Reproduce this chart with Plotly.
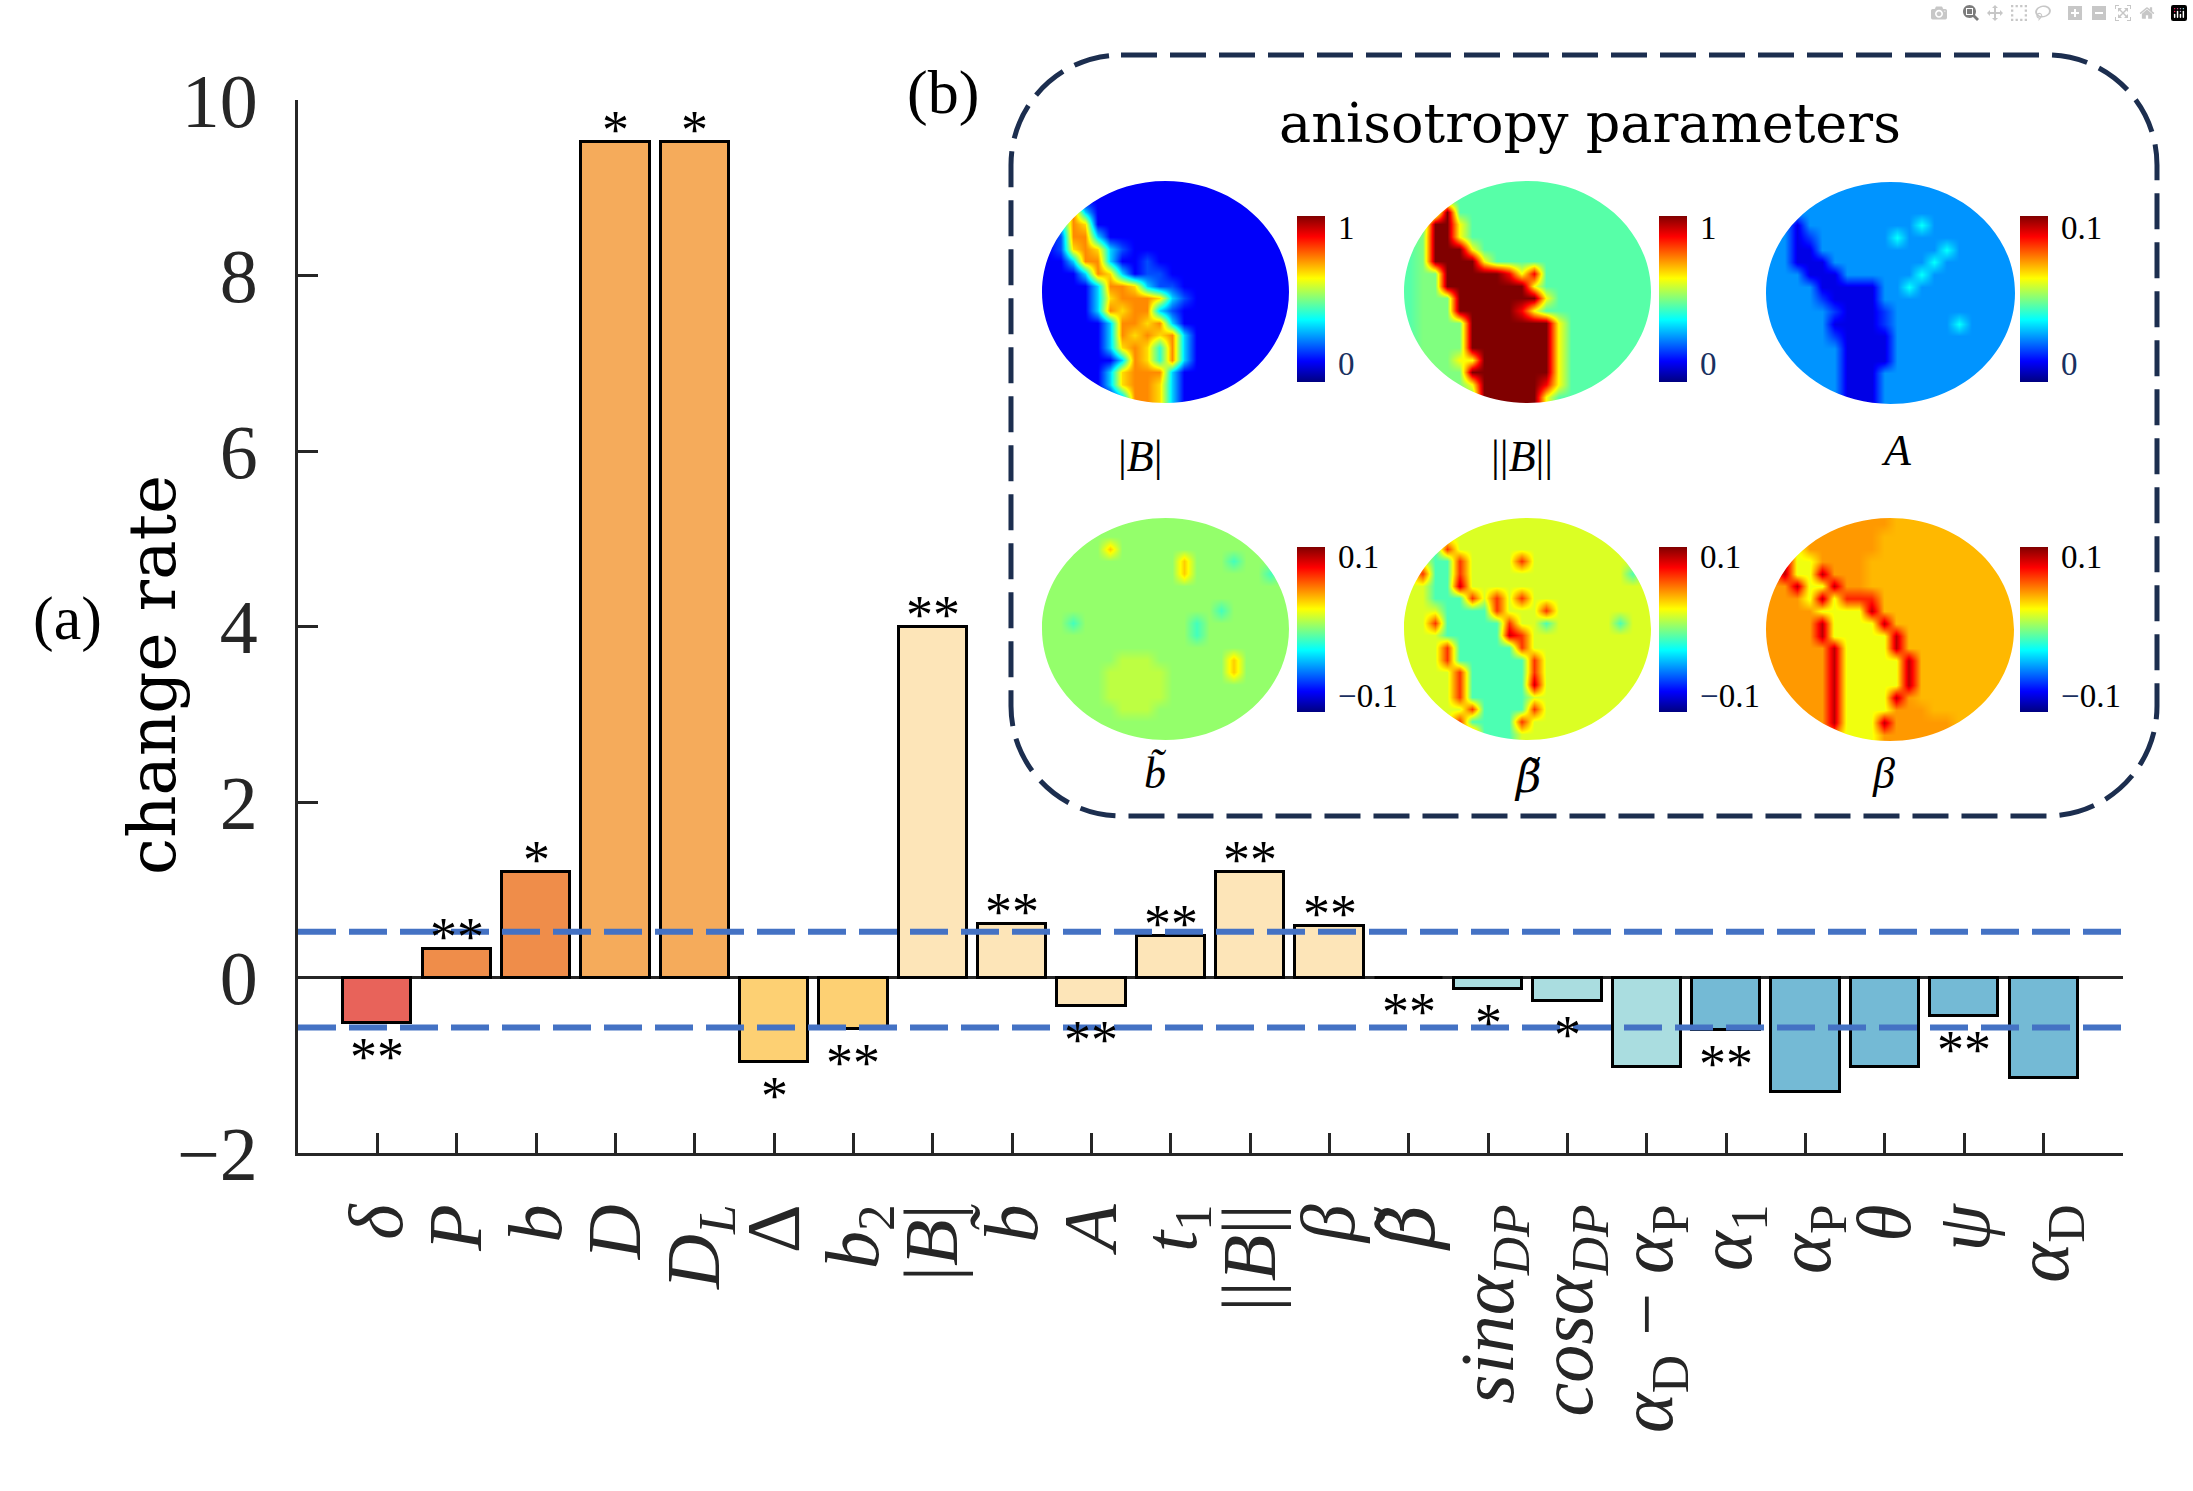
import plotly.graph_objects as go

# ---------------- data ----------------
categories = ["<i>δ</i>", "<i>P</i>", "<i>b</i>", "<i>D</i>", "<i>D<sub>L</sub></i>", "Δ",
              "<i>b</i><sub>2</sub>", "|<i>B</i>|", "<i>b̃</i>", "<i>A</i>", "<i>t</i><sub>1</sub>",
              "||<i>B</i>||", "<i>β</i>", '<span style="font-family:DejaVu Serif"><i>β̃</i></span>',
              "<i>sinα<sub>DP</sub></i>", "<i>cosα<sub>DP</sub></i>",
              "<i>α</i><sub>D</sub> − <i>α</i><sub>P</sub>", "<i>α</i><sub>1</sub>", "<i>α</i><sub>P</sub>",
              "<i>θ</i>", "<i>ψ</i>", "<i>α</i><sub>D</sub>"]
values = [-0.52, 0.33, 1.20, 9.52, 9.52, -0.96, -0.59, 4.00, 0.61, -0.32, 0.47,
          1.20, 0.59, -0.01, -0.13, -0.27, -1.02, -0.60, -1.30, -1.02, -0.44, -1.15]
stars = ["**", "**", "*", "*", "*", "*", "**", "**", "**", "**", "**",
         "**", "**", "**", "*", "*", "", "**", "", "", "**", ""]
bar_colors = ["#e8635a", "#ef8d4a", "#ef8d4a", "#f5ab5b", "#f5ab5b", "#fdd073", "#fdd073",
              "#fde5b8", "#fde5b8", "#fde5b8", "#fde5b8", "#fde5b8", "#fde5b8", "#fde5b8",
              "#aadde0", "#aadde0", "#aadde0", "#74bad5", "#74bad5", "#74bad5", "#74bad5", "#74bad5"]
thresholds = [0.52, -0.57]
y_ticks = [-2, 0, 2, 4, 6, 8, 10]
y_ticktext = ["−2", "0", "2", "4", "6", "8", "10"]

# inset images (coarse reading of each map, one character per cell)
IMG_BABS = [
    "11111111111111111111",
    "11111111111111111111",
    "13731111111111111111",
    "13761111111111111111",
    "12773111111111111111",
    "12676321111111111111",
    "11377311211111111111",
    "11137631221111111111",
    "11113776322111111111",
    "11113677763211111111",
    "11113767732111111111",
    "11111377673111111111",
    "11111376767311111111",
    "11111367647311111111",
    "11111137647311111111",
    "11111367773111111111",
    "11111367763111111111",
    "11111137763111111111",
]
PAL_BABS = {"1": 0.12, "2": 0.2, "3": 0.33, "4": 0.42, "6": 0.66, "7": 0.74}

IMG_BNORM = [
    "44444444444444444444",
    "44444444444444444444",
    "44494444444444444444",
    "44996444444444444444",
    "45996444444444444444",
    "45999644444444444444",
    "45999964444444444444",
    "45599999868444444444",
    "45599999996444444444",
    "45559999999644444444",
    "45559999986444444444",
    "45555999999964444444",
    "45555999999964444444",
    "45555999999964444444",
    "55556699999964444444",
    "55555999999964444444",
    "55555699999864444444",
    "55555599999644444444",
]
PAL_BNORM = {"4": 0.46, "5": 0.5, "6": 0.62, "8": 0.88, "9": 1.0}

IMG_A = [
    "bbbbbbbbbbbbbbbbbbbb",
    "bbbbbbbbbbbbbbbbbbbb",
    "bbbbbbbbbbbbbbbbbbbb",
    "bbdbbbbbbbbbgbbbbbbb",
    "bbdmbbbbbbgbbbbbbbbb",
    "bbddbbbbbbbbbbgbbbbb",
    "bbdddbbbbbbbbgbbbbbb",
    "bbbdddbbbbbbgbbbbbbb",
    "bbbbdddddbbgbbbbbbbb",
    "bbbbmddddbbbbbbbbbbb",
    "bbbbbmdddmbbbbbbbbbb",
    "bbbbbddddmbbbbbgbbbb",
    "bbbbbmddddbbbbbbbbbb",
    "bbbbbbddddbbbbbbbbbb",
    "bbbbbbddddbbbbbbbbbb",
    "bbbbbbdddbbbbbbbbbbb",
    "bbbbbbdddbbbbbbbbbbb",
    "bbbbbbdddbbbbbbbbbbb",
]
PAL_A = {"b": 0.027, "d": 0.01, "m": 0.018, "g": 0.038}

IMG_BT = [
    "gggggggggggggggggggg",
    "gggggggggggggggggggg",
    "gggggogggggggggggggg",
    "gggggggggggogggcgggg",
    "gggggggggggoggggggcg",
    "gggggggggggggggggggg",
    "gggggggggggggggggggg",
    "ggggggggggggggcggggg",
    "ggcgggggggggcggggggg",
    "ggggggggggggcggggggg",
    "gggggggggggggggggggg",
    "ggggggyyyggggggogggg",
    "gggggyyyyygggggogggg",
    "gggggyyyyygggggggggg",
    "gggggyyyyygggggggggg",
    "ggggggyyyggggggggggg",
    "gggggggggggggggggggg",
    "gggggggggggggggggggg",
]
PAL_BT = {"g": 0.004, "y": 0.012, "c": -0.012, "o": 0.035}

IMG_BETAT = [
    "yyyyyyyyyyyyyyyyyyyy",
    "yyyyyyyyyyyyyyyyyyyy",
    "yycryyyyyyyyyyyyyyyy",
    "yyccryyyyryyyyyyyyyy",
    "yrccryyyyyyyyyyyyycy",
    "yyccRyyyyyyyyyyyyyyy",
    "yycccryryryyyyyyyyyy",
    "yyyccccryyyryyyyyyyy",
    "yyrcccccryycyyyyycyy",
    "yyycccccRryyyyyyyyyy",
    "yyyrcccccryyyyyyyyyy",
    "yyyrccccccryyyyyyyyy",
    "yyyyrcccccryyyyyyyyy",
    "yyyyrcccccRyyyyyyyyy",
    "yyyyrcccccyyyyyyyyyy",
    "yyyyyrccccryyyyyyyyy",
    "yyyyrccccryyyyyyyyyy",
    "yyyyyrcccyyyyyyyyyyy",
]
PAL_BETAT = {"y": 0.018, "c": -0.01, "r": 0.065, "R": 0.085}

IMG_BETA = [
    "ooooooooooYYYYYYYYYY",
    "oooooooooYYYYYYYYYYY",
    "oRyooooooYYYYYYYYYYY",
    "oRyyooooYYYYYYYYYYYY",
    "oRyyRoooYYYYYYYYYYYY",
    "ooRyyRooYYYYYYYYYYYY",
    "oooyRyrrrYYYYYYYYYYY",
    "ooooyyyyRYYYYYYYYYYY",
    "ooooRyyyyRYYYYYYYYYY",
    "ooooRyyyyyRYYYYYYYYY",
    "oooooRyyyyRYYYYYYYYY",
    "oooooRyyyyyRYYYYYYYY",
    "oooooRyyyyyRYYYYYYYY",
    "oooooRyyyyyRYYYYYYYY",
    "oooooRyyyyRoYYYYYYYY",
    "oooooRyyyyoooYYYYYYY",
    "oooooRyyyRoooooYYYYY",
    "ooooooyyyoooooooYYYY",
]
PAL_BETA = {"o": 0.045, "Y": 0.039, "y": 0.022, "R": 0.088, "r": 0.068}

# ---------------- geometry / style ----------------
W, H = 2193, 1491
L, R, T, B = 298, 70, 100, 338
PW, PH = W - L - R, H - T - B
AX = "#262626"
SERIF = "Liberation Serif"
JET = [[0.0, "rgb(0,0,128)"], [0.125, "rgb(0,0,255)"], [0.375, "rgb(0,255,255)"],
       [0.625, "rgb(255,255,0)"], [0.875, "rgb(255,0,0)"], [1.0, "rgb(128,0,0)"]]
NAVY = "#1a3060"


def fx(px):
    return (px - L) / PW


def fy(py):
    return (H - B - py) / PH


def pt(px, py):
    return f"{fx(px):.5f},{fy(py):.5f}"


fig = go.Figure()

xs = list(range(1, len(values) + 1))
fig.add_trace(go.Bar(x=xs, y=values, width=0.86,
                     marker=dict(color=bar_colors, line=dict(color="black", width=3)),
                     hoverinfo="skip", showlegend=False))

# star annotations
for xi, v, s in zip(xs, values, stars):
    if not s:
        continue
    if v >= 0:
        fig.add_annotation(x=xi, y=v, text=s, showarrow=False, xanchor="center",
                           yanchor="bottom", yshift=-20,
                           font=dict(family=SERIF, size=54, color="black"))
    else:
        fig.add_annotation(x=xi, y=v, text=s, showarrow=False, xanchor="center",
                           yanchor="top", yshift=-2,
                           font=dict(family=SERIF, size=54, color="black"))

# threshold dashed lines
for tv in thresholds:
    fig.add_shape(type="line", xref="paper", x0=0, x1=1, yref="y", y0=tv, y1=tv,
                  line=dict(color="#4472c4", width=6, dash="38px,13px"), layer="above")

# inset heatmaps
insets = [
    dict(img=IMG_BABS, pal=PAL_BABS, zr=(0, 1), box=(1042, 181, 1289, 403), cbx=1297,
         cby=(216, 382), tv=[0.11, 0.93], tt=[f'<span style="color:{NAVY}">0</span>', "1"],
         lab="|<i>B</i>|", lpos=(1140, 456)),
    dict(img=IMG_BNORM, pal=PAL_BNORM, zr=(0, 1), box=(1404, 181, 1651, 403), cbx=1659,
         cby=(216, 382), tv=[0.11, 0.93], tt=[f'<span style="color:{NAVY}">0</span>', "1"],
         lab="||<i>B</i>||", lpos=(1522, 456)),
    dict(img=IMG_A, pal=PAL_A, zr=(0, 0.1), box=(1766, 182, 2015, 404), cbx=2020,
         cby=(216, 382), tv=[0.011, 0.093], tt=[f'<span style="color:{NAVY}">0</span>', "0.1"],
         lab="<i>A</i>", lpos=(1896, 450)),
    dict(img=IMG_BT, pal=PAL_BT, zr=(-0.1, 0.1), box=(1042, 518, 1289, 740), cbx=1297,
         cby=(547, 712), tv=[-0.08, 0.088], tt=[f'<span style="color:{NAVY}">−</span>0.1', "0.1"],
         lab="<i>b̃</i>", lpos=(1155, 774)),
    dict(img=IMG_BETAT, pal=PAL_BETAT, zr=(-0.1, 0.1), box=(1404, 518, 1651, 740), cbx=1659,
         cby=(547, 712), tv=[-0.08, 0.088], tt=[f'<span style="color:{NAVY}">−</span>0.1', "0.1"],
         lab='<span style="font-family:DejaVu Serif"><i>β̃</i></span>', lpos=(1527, 776)),
    dict(img=IMG_BETA, pal=PAL_BETA, zr=(-0.1, 0.1), box=(1766, 518, 2014, 741), cbx=2020,
         cby=(547, 712), tv=[-0.08, 0.088], tt=[f'<span style="color:{NAVY}">−</span>0.1', "0.1"],
         lab="<i>β</i>", lpos=(1883, 773)),
]

K = 0.5523
layout_axes = {}
for i, ins in enumerate(insets):
    n = i + 2
    z = [[ins["pal"][c] for c in row] for row in ins["img"]]
    ncol = max(len(r) for r in ins["img"])
    nrow = len(ins["img"])
    x0, y0, x1, y1 = ins["box"]
    cb0, cb1 = ins["cby"]
    fig.add_trace(go.Heatmap(
        z=z, xaxis=f"x{n}", yaxis=f"y{n}", colorscale=JET, zmin=ins["zr"][0], zmax=ins["zr"][1],
        zsmooth="best", hoverinfo="skip",
        colorbar=dict(x=fx(ins["cbx"]), xanchor="left", y=fy((cb0 + cb1) / 2), yanchor="middle",
                      len=cb1 - cb0, lenmode="pixels", thickness=28, thicknessmode="pixels",
                      xpad=0, ypad=0, outlinewidth=0, tickvals=ins["tv"], ticktext=ins["tt"],
                      ticks="outside", ticklen=7, tickcolor="rgba(0,0,0,0)",
                      tickfont=dict(family=SERIF, size=33, color="black"))))
    layout_axes[f"xaxis{n}"] = dict(domain=[fx(x0), fx(x1)], anchor=f"y{n}", visible=False,
                                    range=[-0.5, ncol - 0.5], fixedrange=True)
    layout_axes[f"yaxis{n}"] = dict(domain=[fy(y1), fy(y0)], anchor=f"x{n}", visible=False,
                                    range=[nrow - 0.5, -0.5], fixedrange=True)
    # white mask outside the elliptical field of view
    cx, cy = (x0 + x1) / 2, (y0 + y1) / 2
    rx, ry = (x1 - x0) / 2, (y1 - y0) / 2
    e = 3
    path = (f"M{pt(x0 - e, y0 - e)} L{pt(x1 + e, y0 - e)} L{pt(x1 + e, y1 + e)} L{pt(x0 - e, y1 + e)} Z "
            f"M{pt(cx + rx, cy)} "
            f"C{pt(cx + rx, cy - K * ry)} {pt(cx + K * rx, cy - ry)} {pt(cx, cy - ry)} "
            f"C{pt(cx - K * rx, cy - ry)} {pt(cx - rx, cy - K * ry)} {pt(cx - rx, cy)} "
            f"C{pt(cx - rx, cy + K * ry)} {pt(cx - K * rx, cy + ry)} {pt(cx, cy + ry)} "
            f"C{pt(cx + K * rx, cy + ry)} {pt(cx + rx, cy + K * ry)} {pt(cx + rx, cy)} Z")
    fig.add_shape(type="path", xref="paper", yref="paper", path=path, fillcolor="white",
                  line=dict(width=0), layer="above")
    fig.add_annotation(xref="paper", yref="paper", x=fx(ins["lpos"][0]), y=fy(ins["lpos"][1]),
                       text=ins["lab"], showarrow=False, xanchor="center", yanchor="middle",
                       font=dict(family=SERIF, size=44, color="black"))

# rounded dashed inset frame
bx0, by0, bx1, by1, rr = 1011, 55, 2157, 816, 110
kr = K * rr
frame = (f"M{pt(bx0 + rr, by0)} L{pt(bx1 - rr, by0)} "
         f"C{pt(bx1 - rr + kr, by0)} {pt(bx1, by0 + rr - kr)} {pt(bx1, by0 + rr)} "
         f"L{pt(bx1, by1 - rr)} "
         f"C{pt(bx1, by1 - rr + kr)} {pt(bx1 - rr + kr, by1)} {pt(bx1 - rr, by1)} "
         f"L{pt(bx0 + rr, by1)} "
         f"C{pt(bx0 + rr - kr, by1)} {pt(bx0, by1 - rr + kr)} {pt(bx0, by1 - rr)} "
         f"L{pt(bx0, by0 + rr)} "
         f"C{pt(bx0, by0 + rr - kr)} {pt(bx0 + rr - kr, by0)} {pt(bx0 + rr, by0)} Z")
fig.add_shape(type="path", xref="paper", yref="paper", path=frame,
              line=dict(color="#1c2e4f", width=5, dash="36px,13px"), layer="above")

# text annotations
fig.add_annotation(xref="paper", yref="paper", x=fx(1590), y=fy(124), text="anisotropy parameters",
                   showarrow=False, xanchor="center", yanchor="middle",
                   font=dict(family="DejaVu Serif", size=54, color="black"))
fig.add_annotation(xref="paper", yref="paper", x=fx(152), y=fy(675), text="change rate",
                   textangle=-90, showarrow=False, xanchor="center", yanchor="middle",
                   font=dict(family="DejaVu Serif", size=66, color="black"))
fig.add_annotation(xref="paper", yref="paper", x=fx(68), y=fy(618), text="(a)",
                   showarrow=False, xanchor="center", yanchor="middle",
                   font=dict(family=SERIF, size=62, color="black"))
fig.add_annotation(xref="paper", yref="paper", x=fx(943), y=fy(92), text="(b)",
                   showarrow=False, xanchor="center", yanchor="middle",
                   font=dict(family=SERIF, size=62, color="black"))

fig.update_layout(
    width=W, height=H, margin=dict(l=L, r=R, t=T, b=B, pad=0),
    paper_bgcolor="white", plot_bgcolor="white", showlegend=False, bargap=0,
    xaxis=dict(range=[0, len(values) + 1], tickmode="array", tickvals=xs, ticktext=categories,
               tickangle=-90, ticks="inside", ticklen=20, tickwidth=3, tickcolor=AX,
               showline=True, linewidth=3, linecolor=AX, showgrid=False, zeroline=False,
               ticklabelstandoff=18, tickfont=dict(family=SERIF, size=76, color=AX)),
    yaxis=dict(range=[-2, 10], tickmode="array", tickvals=y_ticks, ticktext=y_ticktext,
               ticks="inside", ticklen=20, tickwidth=3, tickcolor=AX,
               showline=True, linewidth=3, linecolor=AX, showgrid=False,
               zeroline=True, zerolinecolor=AX, zerolinewidth=3,
               ticklabelstandoff=22, tickfont=dict(family=SERIF, size=76, color=AX)),
    **layout_axes,
)

fig.write_html("out.html", post_script="document.body.style.margin='0px';")
